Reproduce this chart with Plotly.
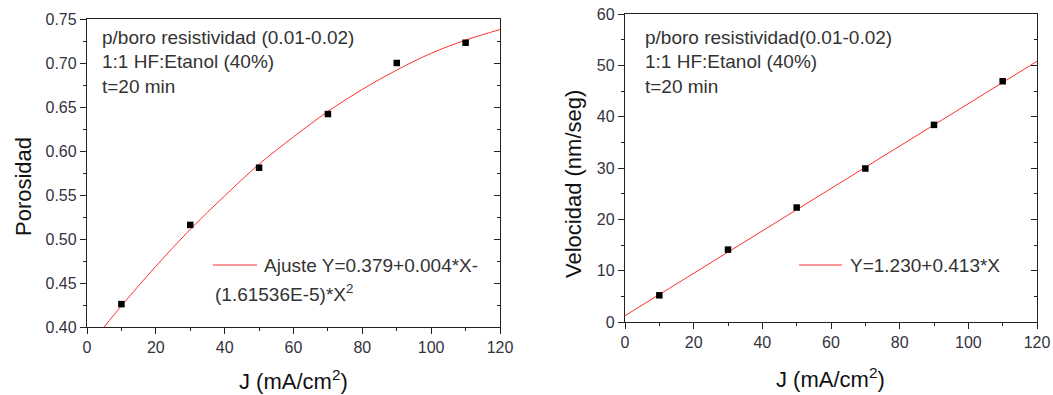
import plotly.graph_objects as go

# ---------------- data ----------------
J = [10, 30, 50, 70, 90, 110]
porosidad = [0.426, 0.516, 0.581, 0.642, 0.700, 0.723]
velocidad = [5.2, 14.1, 22.3, 29.9, 38.4, 46.9]

fit_por_x = [5, 10, 20, 30, 40, 50, 60, 70, 80, 90, 100, 110, 120]
fit_por_y = [0.400, 0.424, 0.469, 0.511, 0.549, 0.585, 0.616, 0.645, 0.670,
             0.692, 0.711, 0.726, 0.738]

fit_vel_x = [0, 120]
fit_vel_y = [1.23, 50.79]

x_ticks = [0, 20, 40, 60, 80, 100, 120]
por_ticks = [0.40, 0.45, 0.50, 0.55, 0.60, 0.65, 0.70, 0.75]
vel_ticks = [0, 10, 20, 30, 40, 50, 60]

info_left = ["p/boro resistividad (0.01-0.02)", "1:1 HF:Etanol (40%)", "t=20 min"]
info_right = ["p/boro resistividad(0.01-0.02)", "1:1 HF:Etanol (40%)", "t=20 min"]
fit_label_left = ["Ajuste Y=0.379+0.004*X-", "(1.61536E-5)*X<sup>2</sup>"]
fit_label_right = "Y=1.230+0.413*X"

# ---------------- layout helpers ----------------
W, H = 1053, 395
FONT = "Liberation Sans, Arial, sans-serif"
TICKC = "#333340"
AXC = "#222222"


def px(x):
    return x / W


def py(y):
    return 1 - y / H


fig = go.Figure()

# left panel
fig.add_trace(go.Scatter(x=fit_por_x, y=fit_por_y, mode="lines", line=dict(color="#ff3030", width=1),
                         line_shape="spline", xaxis="x", yaxis="y", showlegend=False))
fig.add_trace(go.Scatter(x=J, y=porosidad, mode="markers",
                         marker=dict(symbol="square", size=6.5, color="black"),
                         xaxis="x", yaxis="y", showlegend=False))
fig.add_trace(go.Scatter(x=[None], y=[None], xaxis="x", yaxis="y3", showlegend=False))

# right panel
fig.add_trace(go.Scatter(x=fit_vel_x, y=fit_vel_y, mode="lines", line=dict(color="#ff3030", width=1),
                         xaxis="x2", yaxis="y2", showlegend=False))
fig.add_trace(go.Scatter(x=J, y=velocidad, mode="markers",
                         marker=dict(symbol="square", size=6.5, color="black"),
                         xaxis="x2", yaxis="y2", showlegend=False))
fig.add_trace(go.Scatter(x=[None], y=[None], xaxis="x2", yaxis="y4", showlegend=False))

tickfont = dict(family=FONT, size=16, color=TICKC)


def xaxis(domain, anchor):
    return dict(domain=domain, anchor=anchor, range=[0, 120], tickvals=x_ticks, automargin=False,
                showgrid=False, zeroline=False, showline=True, linecolor=AXC, linewidth=1.3,
                mirror=True, ticks="outside", ticklen=6, tickwidth=1.2, tickcolor=AXC,
                minor=dict(dtick=10, ticks="outside", ticklen=3, tickcolor=AXC, tickwidth=1.2),
                tickfont=tickfont)


def yaxis(domain, anchor, rng, vals, fmt, dt):
    return dict(domain=domain, anchor=anchor, range=rng, tickvals=vals, tickformat=fmt, automargin=False,
                showgrid=False, zeroline=False, showline=True, linecolor=AXC, linewidth=1.3,
                mirror=True, ticks="outside", ticklen=6, tickwidth=1.2, tickcolor=AXC,
                minor=dict(dtick=dt, ticks="outside", ticklen=3, tickcolor=AXC, tickwidth=1.2),
                tickfont=tickfont)


def yin(over, anchor, rng, vals, dt):
    return dict(overlaying=over, anchor=anchor, side="right", range=rng, tickvals=vals, automargin=False,
                showticklabels=False, showgrid=False, zeroline=False, showline=False,
                ticks="inside", ticklen=6, tickwidth=1.2, tickcolor=AXC,
                minor=dict(dtick=dt, ticks="inside", ticklen=3, tickcolor=AXC, tickwidth=1.2))


Lx = [px(87), px(500)]
Ly = [py(327), py(19)]
Rx = [px(625), px(1037)]
Ry = [py(322), py(14)]

fig.update_layout(
    width=W, height=H,
    margin=dict(l=0, r=0, t=0, b=0),
    paper_bgcolor="white", plot_bgcolor="white",
    xaxis=xaxis(Lx, "y"),
    yaxis=yaxis(Ly, "x", [0.40, 0.75], por_ticks, ".2f", 0.025),
    yaxis3=yin("y", "x", [0.40, 0.75], por_ticks, 0.025),
    xaxis2=xaxis(Rx, "y2"),
    yaxis2=yaxis(Ry, "x2", [0, 60], vel_ticks, "d", 5),
    yaxis4=yin("y2", "x2", [0, 60], vel_ticks, 5),
    font=dict(family=FONT),
)

ann = []
tfont = dict(family=FONT, size=19, color="#333333")
for i, t in enumerate(info_left):
    ann.append(dict(x=px(100), y=py(38 + 24 * i), xref="paper", yref="paper", text=t,
                    showarrow=False, xanchor="left", yanchor="middle", font=tfont))
for i, t in enumerate(info_right):
    ann.append(dict(x=px(643), y=py(38 + 24 * i), xref="paper", yref="paper", text=t,
                    showarrow=False, xanchor="left", yanchor="middle", font=tfont))

# fit labels
ann.append(dict(x=px(262), y=py(265), xref="paper", yref="paper", text=fit_label_left[0],
                showarrow=False, xanchor="left", yanchor="middle", font=tfont))
ann.append(dict(x=px(213), y=py(293), xref="paper", yref="paper", text=fit_label_left[1],
                showarrow=False, xanchor="left", yanchor="middle", font=tfont))
ann.append(dict(x=px(848), y=py(265), xref="paper", yref="paper", text=fit_label_right,
                showarrow=False, xanchor="left", yanchor="middle", font=tfont))

# axis titles
titfont = dict(family=FONT, size=22, color="#111111")
ann.append(dict(x=px(23), y=py(187), xref="paper", yref="paper", text="Porosidad", textangle=-90,
                showarrow=False, xanchor="center", yanchor="middle", font=titfont))
ann.append(dict(x=px(573), y=py(184), xref="paper", yref="paper", text="Velocidad (nm/seg)", textangle=-90,
                showarrow=False, xanchor="center", yanchor="middle", font=titfont))
ann.append(dict(x=px(293), y=py(380), xref="paper", yref="paper", text="J (mA/cm<sup>2</sup>)",
                showarrow=False, xanchor="center", yanchor="middle", font=titfont))
ann.append(dict(x=px(830), y=py(378), xref="paper", yref="paper", text="J (mA/cm<sup>2</sup>)",
                showarrow=False, xanchor="center", yanchor="middle", font=titfont))

fig.update_layout(annotations=ann)

# legend line samples
fig.add_shape(type="line", xref="paper", yref="paper", x0=px(213), x1=px(257), y0=py(265), y1=py(265),
              line=dict(color="#ff3030", width=1))
fig.add_shape(type="line", xref="paper", yref="paper", x0=px(799), x1=px(842), y0=py(265), y1=py(265),
              line=dict(color="#ff3030", width=1))

fig.write_html("out.html", config={"displayModeBar": False},
               post_script="document.body.style.margin='0';document.body.style.overflow='hidden';")
